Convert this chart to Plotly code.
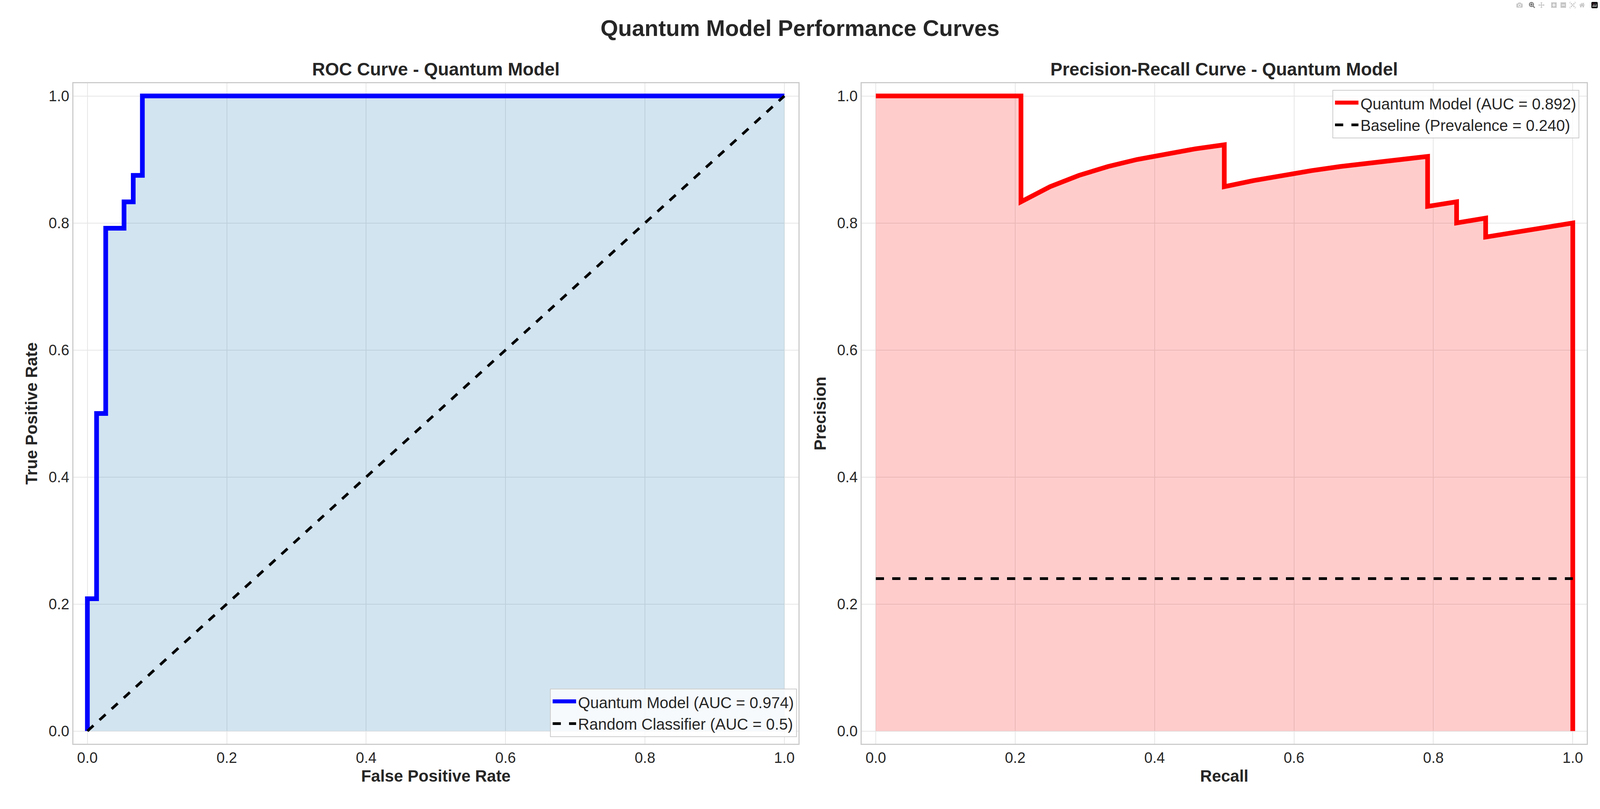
import plotly.graph_objects as go
from plotly.subplots import make_subplots

roc_fpr = [0.0, 0.0, 0.0132, 0.0132, 0.0263, 0.0263, 0.0526, 0.0526, 0.0658, 0.0658, 0.0789, 0.0789, 1.0]
roc_tpr = [0.0, 0.2083, 0.2083, 0.5, 0.5, 0.7917, 0.7917, 0.8333, 0.8333, 0.875, 0.875, 1.0, 1.0]
rand_x = [0.0, 1.0]
rand_y = [0.0, 1.0]

pr_recall = [0.0, 0.2083, 0.2083, 0.25, 0.2917, 0.3333, 0.375, 0.4167, 0.4583, 0.5, 0.5,
             0.5417, 0.5833, 0.625, 0.6667, 0.7083, 0.75, 0.7917, 0.7917, 0.8333, 0.8333,
             0.875, 0.875, 0.9167, 0.9583, 1.0, 1.0]
pr_precision = [1.0, 1.0, 0.8333, 0.8571, 0.875, 0.8889, 0.9, 0.9091, 0.9167, 0.9231, 0.8571,
                0.8667, 0.875, 0.8824, 0.8889, 0.8947, 0.9, 0.9048, 0.8261, 0.8333, 0.8,
                0.8077, 0.7778, 0.7857, 0.7931, 0.8, 0.0]
baseline = 0.240
ticks = [0.0, 0.2, 0.4, 0.6, 0.8, 1.0]

FONT = "Liberation Sans, Arial, sans-serif"
fig = make_subplots(rows=1, cols=2, horizontal_spacing=0.042,
                    subplot_titles=["<b>ROC Curve - Quantum Model</b>",
                                    "<b>Precision-Recall Curve - Quantum Model</b>"])

fig.add_trace(go.Scatter(x=roc_fpr, y=roc_tpr, fill="tozeroy", fillcolor="rgba(31,119,180,0.2)",
                         line=dict(color="blue", width=12), mode="lines",
                         name="Quantum Model (AUC = 0.974)", legend="legend"), 1, 1)
fig.add_trace(go.Scatter(x=rand_x, y=rand_y, mode="lines", line=dict(color="black", width=7, dash="dash"),
                         name="Random Classifier (AUC = 0.5)", legend="legend"), 1, 1)
fig.add_trace(go.Scatter(x=pr_recall, y=pr_precision, fill="tozeroy", fillcolor="rgba(255,0,0,0.2)",
                         line=dict(color="red", width=12), mode="lines",
                         name="Quantum Model (AUC = 0.892)", legend="legend2"), 1, 2)
fig.add_trace(go.Scatter(x=[0, 1], y=[baseline, baseline], mode="lines",
                         line=dict(color="black", width=7, dash="dash"),
                         name="Baseline (Prevalence = 0.240)", legend="legend2"), 1, 2)

ax = dict(range=[-0.02, 1.02], tickvals=ticks, tickformat=".1f", showgrid=True,
          gridcolor="#e6e6e6", gridwidth=2, zeroline=False, showline=True, mirror=True,
          linecolor="#cccccc", linewidth=3, tickfont=dict(size=38, color="#262626"), ticks="")
fig.update_xaxes(**ax)
fig.update_yaxes(**ax)
tf = dict(size=42, color="#262626", family=FONT)
fig.update_xaxes(title=dict(text="<b>False Positive Rate</b>", font=tf, standoff=12), row=1, col=1)
fig.update_xaxes(title=dict(text="<b>Recall</b>", font=tf, standoff=12), row=1, col=2)
fig.update_yaxes(title=dict(text="<b>True Positive Rate</b>", font=tf, standoff=16), row=1, col=1)
fig.update_yaxes(title=dict(text="<b>Precision</b>", font=tf, standoff=16), row=1, col=2)

for a in fig.layout.annotations:
    a.font = dict(size=46, color="#262626", family=FONT)
    a.yshift = 8

leg = dict(font=dict(size=40, color="#262626", family=FONT), bgcolor="rgba(255,255,255,0.8)",
           bordercolor="#cccccc", borderwidth=2, itemwidth=60)
fig.update_layout(
    autosize=True, plot_bgcolor="white", paper_bgcolor="white",
    font=dict(family=FONT, color="#262626"),
    margin=dict(l=188, r=34, t=213, b=167),
    title=dict(text="<b>Quantum Model Performance Curves</b>", x=0.5, xanchor="center",
               y=0.975, yanchor="top", font=dict(size=58, color="#262626", family=FONT)),
    legend=dict(x=0.478, y=0.01, xanchor="right", yanchor="bottom", **leg),
    legend2=dict(x=0.995, y=0.99, xanchor="right", yanchor="top", **leg),
    showlegend=True,
)
fig.write_html("out.html", default_width="100vw", default_height="100vh",
               config={"responsive": True},
               post_script="document.body.style.margin='0';document.body.style.overflow='hidden';"
                           "Plotly.Plots.resize(document.getElementById('{plot_id}'));")
